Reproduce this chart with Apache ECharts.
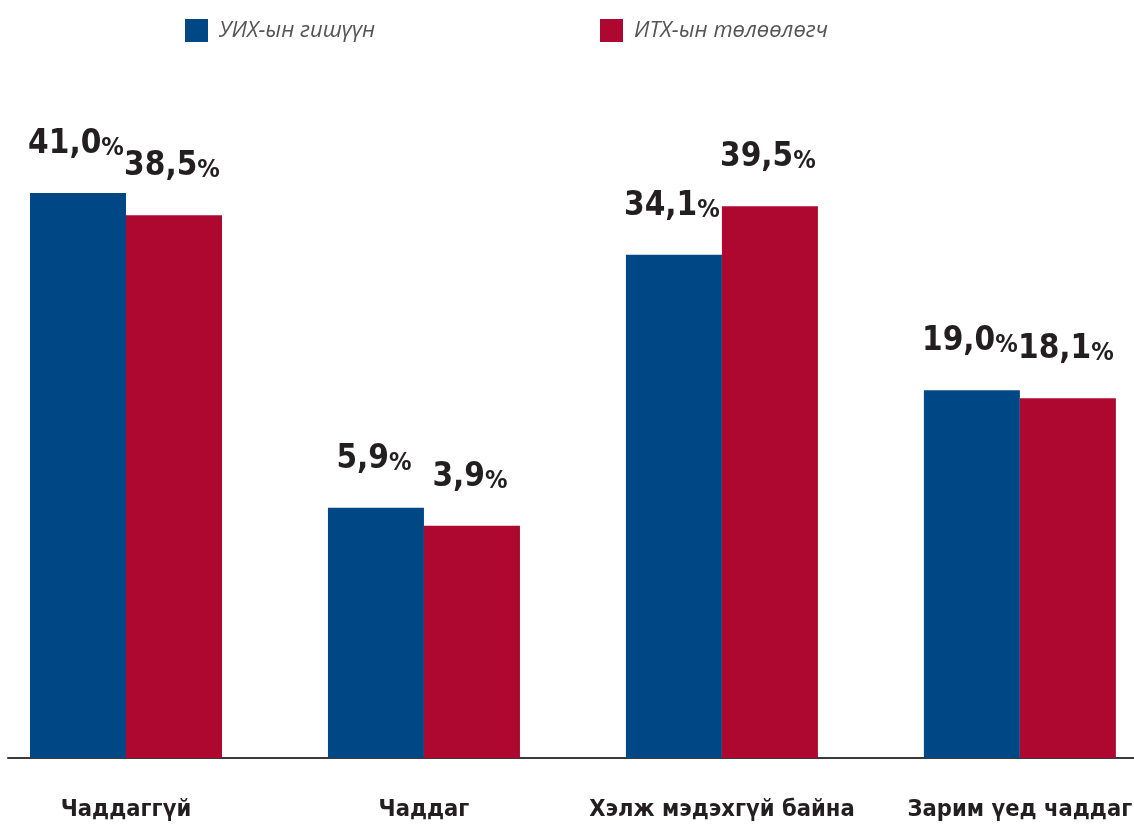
<!DOCTYPE html>
<html>
<head>
<meta charset="utf-8">
<script src="https://cdn.jsdelivr.net/npm/echarts@6/dist/echarts.min.js"></script>
<style>
    html, body { margin: 0; padding: 0; background: #fff; }
    #chart { width: 1134px; height: 829px; }
</style>
</head>
<body>
<div id="chart"></div>
<script>
var categories = ['Чаддаггүй', 'Чаддаг', 'Хэлж мэдэхгүй байна', 'Зарим үед чаддаг'];
var seriesNames = ['УИХ-ын гишүүн', 'ИТХ-ын төлөөлөгч'];
var uihValues = [41.0, 5.9, 34.1, 19.0];
var itxValues = [38.5, 3.9, 39.5, 18.1];

var Y_MIN = -22;
var BAR_W = 96;
var NARROW = '"Liberation Sans Narrow", "DejaVu Sans Condensed", sans-serif';

function fmt(v) {
    return v.toFixed(1).replace('.', ',');
}

function makeRender(side) {
    return function (params, api) {
        var idx = api.value(0);
        var val = api.value(1);
        var top = api.coord([idx, val]);
        var base = api.coord([idx, Y_MIN]);
        var x = side < 0 ? top[0] - BAR_W : top[0];
        return {
            type: 'group',
            children: [
                {
                    type: 'rect',
                    shape: { x: x, y: top[1], width: BAR_W, height: base[1] - top[1] },
                    style: { fill: api.visual('color') }
                },
                {
                    type: 'text',
                    style: {
                        text: '{n|' + fmt(val) + '}{p|%}',
                        x: x + BAR_W / 2 - 2,
                        y: top[1] - 32,
                        align: 'center',
                        verticalAlign: 'bottom',
                        rich: {
                            n: { fontSize: 33, fontWeight: 'bold', fontFamily: NARROW, fill: '#231f20', verticalAlign: 'bottom' },
                            p: { fontSize: 25, fontWeight: 'bold', fontFamily: NARROW, fill: '#231f20', verticalAlign: 'bottom' }
                        }
                    }
                }
            ]
        };
    };
}

function toData(values) {
    var out = [];
    for (var i = 0; i < values.length; i++) {
        out.push([i, values[i]]);
    }
    return out;
}

var chart = echarts.init(document.getElementById('chart'));

var legendBase = {
    top: 14,
    icon: 'rect',
    itemWidth: 23,
    itemHeight: 23,
    textStyle: {
        fontSize: 22,
        fontStyle: 'italic',
        fontFamily: '"Open Sans", sans-serif',
        color: '#555555',
        padding: [0, 0, 0, 6]
    }
};

var option = {
    animation: false,
    legend: [
        Object.assign({}, legendBase, { data: [seriesNames[0]], left: 180 }),
        Object.assign({}, legendBase, { data: [seriesNames[1]], left: 595 })
    ],
    grid: {
        left: 8,
        right: 0,
        top: 157,
        bottom: 71,
        outerBoundsMode: 'none',
        containLabel: false
    },
    xAxis: {
        type: 'value',
        min: -0.396,
        max: 3.383,
        splitLine: { show: false },
        axisTick: { show: false },
        axisLine: { onZero: false, lineStyle: { color: '#3a3a3a', width: 2 } },
        axisLabel: {
            customValues: [0, 1, 2, 3],
            formatter: function (v) { return categories[Math.round(v)]; },
            margin: 40,
            fontSize: 23.5,
            fontWeight: 'bold',
            fontFamily: NARROW,
            color: '#231f20'
        }
    },
    yAxis: {
        type: 'value',
        min: Y_MIN,
        max: 45,
        show: false
    },
    series: [
        {
            name: seriesNames[0],
            type: 'custom',
            itemStyle: { color: '#004786' },
            renderItem: makeRender(-1),
            data: toData(uihValues)
        },
        {
            name: seriesNames[1],
            type: 'custom',
            itemStyle: { color: '#ae0831' },
            renderItem: makeRender(1),
            data: toData(itxValues)
        }
    ]
};

chart.setOption(option);
</script>
</body>
</html>
